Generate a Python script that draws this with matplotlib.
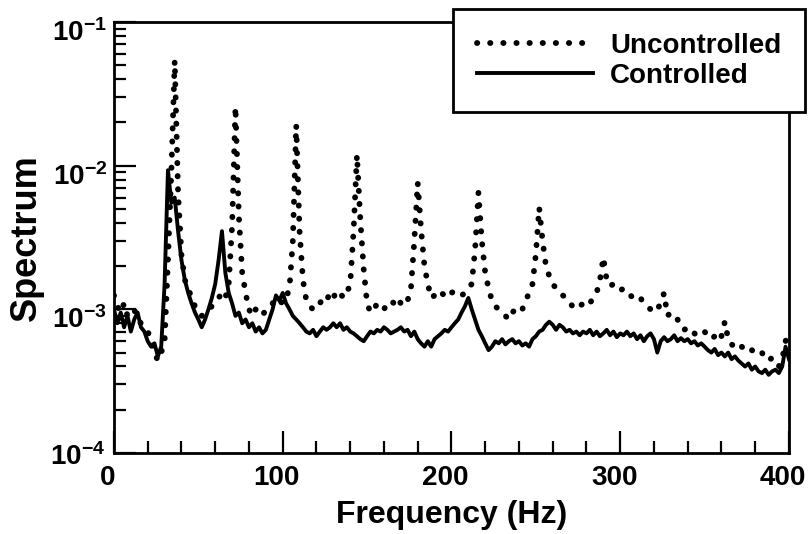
import matplotlib
matplotlib.use('Agg')
import matplotlib.pyplot as plt
import matplotlib.transforms as mtransforms
import numpy as np

plt.rcParams['font.family'] = ['Liberation Sans', 'DejaVu Sans']
plt.rcParams['font.weight'] = 'bold'
plt.rcParams['mathtext.fontset'] = 'custom'
plt.rcParams['mathtext.rm'] = 'Liberation Sans:bold'
plt.rcParams['mathtext.bf'] = 'Liberation Sans:bold'

# frequency grid, 2 Hz steps (0..400 Hz)
freq = np.arange(0, 401, 2)

# spectrum values, in units of 1e-3
uncontrolled = [
    1.25, 1.05, 0.95, 1.1, 0.9, 0.95, 1.0, 0.85, 0.8, 0.75,      # 0-18
    0.7, 0.62, 0.5, 0.44, 0.5, 0.6, 2.2, 9.0, 54, 6.5,           # 20-38
    2.4, 1.6, 1.4, 1.2, 1.05, 0.95, 0.9, 0.95, 1.0, 1.05,        # 40-58
    1.1, 1.2, 1.3, 1.2, 1.5, 3.8, 25.7, 4.5, 1.8, 1.3,           # 60-78
    1.0, 0.9, 1.0, 0.95, 0.9, 1.0, 1.05, 1.1, 1.2, 1.15,         # 80-98
    1.1, 1.2, 1.4, 3.0, 19.2, 3.5, 1.6, 1.15, 1.05, 1.0,         # 100-118
    1.0, 1.1, 1.2, 1.15, 1.3, 1.2, 1.35, 1.3, 1.2, 1.3,          # 120-138
    1.5, 3.5, 11.9, 4.2, 1.9, 1.1, 0.95, 1.0, 1.1, 1.05,         # 140-158
    1.0, 1.1, 1.15, 1.1, 1.2, 1.1, 1.2, 1.15, 1.4, 3.0,          # 160-178
    7.6, 3.6, 2.0, 1.5, 1.2, 1.25, 1.2, 1.3, 1.25, 1.35,         # 180-198
    1.3, 1.35, 1.3, 1.25, 1.3, 1.4, 1.5, 2.6, 6.5, 3.0,          # 200-218
    1.8, 1.4, 1.15, 1.05, 1.0, 0.95, 0.9, 0.85, 0.95, 1.0,       # 220-238
    1.05, 1.0, 1.15, 1.3, 1.5, 2.4, 5.1, 3.0, 2.0, 1.7,          # 240-258
    1.5, 1.4, 1.35, 1.25, 1.2, 1.1, 1.05, 1.0, 1.05, 1.1,        # 260-278
    1.05, 1.1, 1.2, 1.3, 1.6, 2.3, 1.6, 1.45, 1.5, 1.4,          # 280-298
    1.35, 1.4, 1.3, 1.25, 1.2, 1.25, 1.2, 1.1, 1.05, 1.0,        # 300-318
    0.95, 1.0, 1.1, 1.3, 0.9, 0.95, 0.9, 0.85, 0.75, 0.72,       # 320-338
    0.75, 0.7, 0.68, 0.65, 0.68, 0.7, 0.65, 0.62, 0.65, 0.6,     # 340-358
    0.65, 0.82, 0.62, 0.57, 0.55, 0.58, 0.55, 0.52, 0.5, 0.52,   # 360-378
    0.5, 0.48, 0.5, 0.45, 0.44, 0.46, 0.42, 0.4, 0.45, 0.6,      # 380-398
    0.7]                                                        # 400

controlled = [
    1.0, 0.8, 0.95, 0.75, 0.9, 0.7, 0.85, 0.95, 0.75, 0.7,       # 0-18
    0.6, 0.55, 0.58, 0.47, 0.55, 1.5, 9.3, 5.5, 6.0, 3.5,        # 20-38
    2.2, 1.6, 1.3, 1.1, 0.95, 0.85, 0.75, 0.85, 1.0, 1.2,        # 40-58
    1.5, 2.2, 3.5, 1.8, 1.3, 1.1, 0.9, 0.95, 0.8, 0.85,          # 60-78
    0.75, 0.8, 0.7, 0.75, 0.68, 0.72, 0.85, 1.0, 1.25, 1.15,     # 80-98
    1.3, 1.1, 1.0, 0.9, 0.85, 0.8, 0.75, 0.7, 0.68, 0.72,        # 100-118
    0.65, 0.7, 0.75, 0.72, 0.75, 0.8, 0.75, 0.8, 0.72, 0.75,     # 120-138
    0.7, 0.68, 0.65, 0.62, 0.6, 0.65, 0.7, 0.68, 0.72, 0.7,      # 140-158
    0.75, 0.72, 0.68, 0.7, 0.72, 0.75, 0.7, 0.72, 0.65, 0.7,     # 160-178
    0.62, 0.58, 0.55, 0.6, 0.55, 0.62, 0.65, 0.68, 0.72, 0.7,    # 180-198
    0.75, 0.8, 0.85, 0.95, 1.05, 1.2, 1.0, 0.85, 0.72, 0.65,     # 200-218
    0.58, 0.52, 0.55, 0.6, 0.58, 0.62, 0.57, 0.6, 0.62, 0.58,    # 220-238
    0.6, 0.56, 0.58, 0.55, 0.62, 0.65, 0.7, 0.72, 0.78, 0.82,    # 240-258
    0.78, 0.72, 0.78, 0.75, 0.7, 0.72, 0.68, 0.7, 0.66, 0.7,     # 260-278
    0.68, 0.72, 0.66, 0.7, 0.65, 0.68, 0.72, 0.66, 0.7, 0.64,    # 280-298
    0.68, 0.66, 0.7, 0.65, 0.68, 0.62, 0.66, 0.6, 0.65, 0.68,    # 300-318
    0.62, 0.5, 0.6, 0.64, 0.6, 0.62, 0.66, 0.6, 0.63, 0.6,       # 320-338
    0.62, 0.58, 0.6, 0.56, 0.58, 0.55, 0.52, 0.5, 0.53, 0.48,    # 340-358
    0.5, 0.47, 0.5, 0.45, 0.47, 0.44, 0.42, 0.4, 0.42, 0.38,     # 360-378
    0.4, 0.37, 0.36, 0.38, 0.35, 0.37, 0.38, 0.36, 0.4, 0.55,    # 380-398
    0.45]                                                       # 400

x_ticks = [0, 100, 200, 300, 400]
y_ticks = [1e-4, 1e-3, 1e-2, 1e-1]
y_ticklabels = [r'$\mathbf{10^{-4}}$', r'$\mathbf{10^{-3}}$',
                r'$\mathbf{10^{-2}}$', r'$\mathbf{10^{-1}}$']

fig = plt.figure(figsize=(8.1, 5.34), dpi=100)
ax = fig.add_axes([0.1407, 0.1517, 0.8333, 0.8071])

u = np.array(uncontrolled) * 1e-3
c = np.array(controlled) * 1e-3

ax.plot(freq, u, color='black', lw=4.2, ls=(0, (0.05, 2.2)),
        dash_capstyle='round', label='Uncontrolled')
ax.plot(freq, c, color='black', lw=2.8, solid_joinstyle='round',
        label='Controlled')

ax.set_yscale('log')
ax.set_xlim(0, 400)
ax.set_ylim(1e-4, 1e-1)

ax.set_xticks(x_ticks)
ax.set_xticklabels([str(v) for v in x_ticks])
ax.set_xticks(np.arange(0, 401, 20), minor=True)
ax.set_yticks(y_ticks)
ax.set_yticklabels(y_ticklabels)

ax.tick_params(which='both', direction='in', top=False, right=False,
               width=1.6, labelsize=20)
ax.tick_params(which='major', length=16)
ax.tick_params(which='minor', length=8.5)
ax.tick_params(axis='x', pad=9)
ax.tick_params(axis='y', pad=5)

for s in ax.spines.values():
    s.set_linewidth(2.0)

# labels sit a bit low/left in the original
dx = mtransforms.ScaledTranslation(-6 / 100, 0, fig.dpi_scale_trans)
for lab in ax.get_xticklabels():
    lab.set_transform(lab.get_transform() + dx)
for i, lab in enumerate(ax.get_yticklabels()):
    # bottom label kept clear of the "0" below it
    shift = -1 / 100 if i == 0 else -8 / 100
    dy = mtransforms.ScaledTranslation(-2 / 100 if i == 0 else 0, shift,
                                       fig.dpi_scale_trans)
    lab.set_transform(lab.get_transform() + dy)

ax.set_xlabel('Frequency (Hz)', fontsize=23, fontweight='bold', labelpad=6)
ax.set_ylabel('Spectrum', fontsize=26, fontweight='bold', labelpad=4)

leg = ax.legend(loc='upper left', bbox_to_anchor=(453 / 810, 1 - 9 / 534),
                bbox_transform=fig.transFigure, fontsize=20, frameon=True,
                fancybox=False, framealpha=1, edgecolor='black',
                handlelength=4.2, handletextpad=0.6, borderpad=0.85,
                labelspacing=0.15, borderaxespad=0)
leg.get_frame().set_linewidth(2.0)
leg.set_zorder(10)

fig.savefig('out.png', dpi=100)
